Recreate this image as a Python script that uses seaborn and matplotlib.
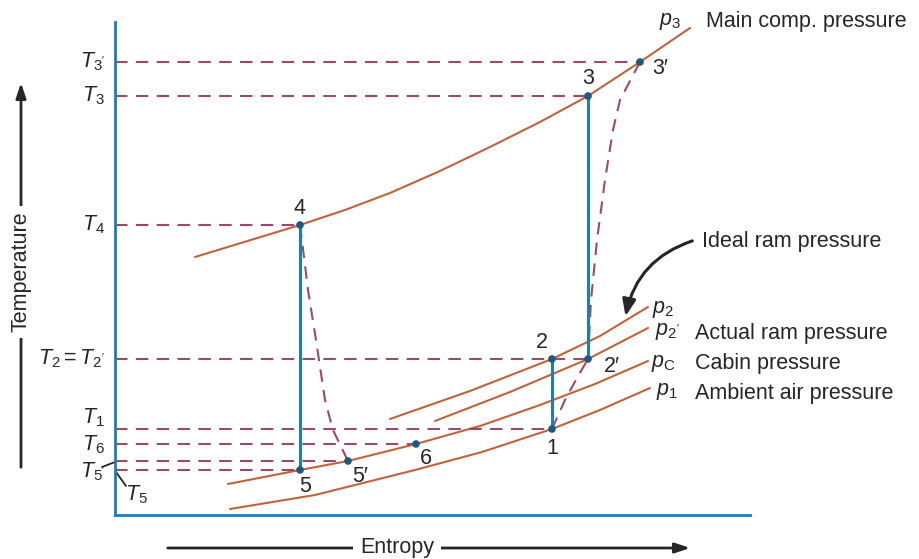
import matplotlib
matplotlib.use("Agg")
import matplotlib.pyplot as plt
import seaborn as sns
import pandas as pd

# state points of the cycle (entropy, temperature), arbitrary units
states = ["1", "2", "2'", "3", "3'", "4", "5", "5'", "6"]
state_s = [437, 437, 473, 473, 525, 185, 185, 233, 301]
state_T = [86, 156, 156, 419, 453, 290, 45, 54, 71]

# isobars
p3_s = [80, 185, 230, 275, 325, 375, 425, 473, 525, 575]
p3_T = [258, 290, 305, 322, 344, 368, 393, 419, 453, 487]
p2_s = [275, 355, 437, 485, 533]
p2_T = [96, 124, 156, 179, 208]
p2a_s = [320, 395, 473, 533]
p2a_T = [94, 123, 156, 187]
pc_s = [113, 185, 233, 301, 365, 425, 480, 533]
pc_T = [31, 45, 54, 71, 89, 110, 131, 154]
p1_s = [115, 200, 300, 367, 437, 485, 535]
p1_T = [6, 20, 45, 63, 86, 105, 127]

# actual (irreversible) processes
comp_s = [473, 476, 482, 490, 498, 505, 525]
comp_T = [156, 215, 275, 335, 385, 415, 453]
ram_s = [437, 450, 462, 473]
ram_T = [86, 115, 137, 156]
turb_s = [185, 190, 193, 201, 210, 218, 233]
turb_T = [290, 250, 225, 175, 115, 85, 54]

ORANGE = "#c2623a"
BLUE = "#1f7db4"
DOT = "#1a5a80"
DASH = "#9c4a6c"
TXT = "#262626"
FS = 15.5

sns.set_style("white")
plt.rcParams["font.family"] = ["Liberation Sans", "DejaVu Sans"]
plt.rcParams["mathtext.fontset"] = "custom"
plt.rcParams["mathtext.rm"] = "Liberation Sans"
plt.rcParams["mathtext.it"] = "Liberation Sans:italic"

fig = plt.figure(figsize=(9.19, 5.59), dpi=100)
ax = fig.add_axes([115 / 919, 44 / 559, 635 / 919, 493 / 559])
ax.set_xlim(0, 635)
ax.set_ylim(0, 493)

iso = pd.concat([
    pd.DataFrame({"s": p3_s, "T": p3_T, "p": "p3"}),
    pd.DataFrame({"s": p2_s, "T": p2_T, "p": "p2"}),
    pd.DataFrame({"s": p2a_s, "T": p2a_T, "p": "p2'"}),
    pd.DataFrame({"s": pc_s, "T": pc_T, "p": "pc"}),
    pd.DataFrame({"s": p1_s, "T": p1_T, "p": "p1"}),
])
sns.lineplot(data=iso, x="s", y="T", hue="p", palette=[ORANGE] * 5,
             sort=False, legend=False, lw=1.5, ax=ax)

st = dict(zip(states, zip(state_s, state_T)))

# ideal processes (solid blue)
for a, b in [("1", "2"), ("2'", "3"), ("4", "5")]:
    ax.plot([st[a][0], st[b][0]], [st[a][1], st[b][1]], color=BLUE, lw=2.2, zorder=3)

# actual processes (dashed)
dash = dict(color=DASH, lw=1.5, dashes=(6, 4), zorder=2)
ax.plot(comp_s, comp_T, **dash)
ax.plot(ram_s, ram_T, **dash)
ax.plot(turb_s, turb_T, **dash)

# temperature projections
for k in ["3'", "3", "4", "2'", "1", "6", "5'", "5"]:
    ax.plot([0, st[k][0]], [st[k][1], st[k][1]], **dash)

sns.scatterplot(x=state_s, y=state_T, color=DOT, s=30, edgecolor="none",
                zorder=5, ax=ax)

# state labels
lab_pos = {"1": (437, 67), "2": (427, 172), "2′": (497, 149), "3": (473, 437),
           "3′": (545, 446), "4": (185, 306), "5": (190, 28), "5′": (245, 39),
           "6": (311, 57)}
for k, (x, y) in lab_pos.items():
    ax.text(x, y, k, ha="center", va="center", fontsize=FS, color=TXT)

# temperature labels on the left
tlab = [(r"$T_{3'}$", 453), (r"$T_3$", 419), (r"$T_4$", 290),
        (r"$T_2 = T_{2'}$", 156), (r"$T_1$", 97), (r"$T_6$", 70), (r"$T_{5'}$", 43)]
for t, y in tlab:
    ax.text(-10, y, t, ha="right", va="center", fontsize=FS, color=TXT,
            clip_on=False)
ax.plot([-13, 0], [48, 53], color=TXT, lw=1.3, clip_on=False)
ax.text(10, 20, r"$T_5$", ha="left", va="center", fontsize=FS, color=TXT)
ax.plot([1, 11], [43, 29], color=TXT, lw=1.3, clip_on=False)

# pressure labels
ax.text(555, 494, r"$p_3$", ha="center", va="center", fontsize=FS, color=TXT,
        clip_on=False)
ax.text(591, 494, "Main comp. pressure", ha="left", va="center", fontsize=FS,
        color=TXT, clip_on=False)
ax.text(548, 206, r"$p_2$", ha="center", va="center", fontsize=FS, color=TXT)
ax.text(552, 183, r"$p_{2'}$", ha="center", va="center", fontsize=FS, color=TXT)
ax.text(580, 182, "Actual ram pressure", ha="left", va="center", fontsize=FS,
        color=TXT, clip_on=False)
ax.text(548, 152, r"$p_\mathrm{C}$", ha="center", va="center", fontsize=FS, color=TXT)
ax.text(580, 151, "Cabin pressure", ha="left", va="center", fontsize=FS,
        color=TXT, clip_on=False)
ax.text(552, 123, r"$p_1$", ha="center", va="center", fontsize=FS, color=TXT)
ax.text(580, 122, "Ambient air pressure", ha="left", va="center", fontsize=FS,
        color=TXT, clip_on=False)
ax.text(587, 274, "Ideal ram pressure", ha="left", va="center", fontsize=FS,
        color=TXT, clip_on=False)
ax.annotate("", xy=(510, 196), xytext=(580, 275),
            arrowprops=dict(arrowstyle="-|>,head_length=1.0,head_width=0.4",
                            color=TXT, lw=2.2, connectionstyle="arc3,rad=0.3"))

# axis arrows and titles
ax.annotate("", xy=(-94, 435), xytext=(-94, 45), annotation_clip=False,
            arrowprops=dict(arrowstyle="-|>,head_length=0.9,head_width=0.3",
                            color=TXT, lw=2))
ax.text(-94, 243, "Temperature", rotation=90, ha="center", va="center",
        fontsize=FS, color=TXT, clip_on=False,
        bbox=dict(facecolor="white", edgecolor="none", pad=4))
ax.annotate("", xy=(578, -33), xytext=(50, -33), annotation_clip=False,
            arrowprops=dict(arrowstyle="-|>,head_length=0.9,head_width=0.3",
                            color=TXT, lw=2))
ax.text(282, -33, "Entropy", ha="center", va="center", fontsize=FS, color=TXT,
        clip_on=False, bbox=dict(facecolor="white", edgecolor="none", pad=5))

ax.set_xticks([])
ax.set_yticks([])
ax.set_xlabel("")
ax.set_ylabel("")
sns.despine(ax=ax)
for sp in ["left", "bottom"]:
    ax.spines[sp].set_color(BLUE)
    ax.spines[sp].set_linewidth(2)

fig.savefig("out.png", dpi=100)
